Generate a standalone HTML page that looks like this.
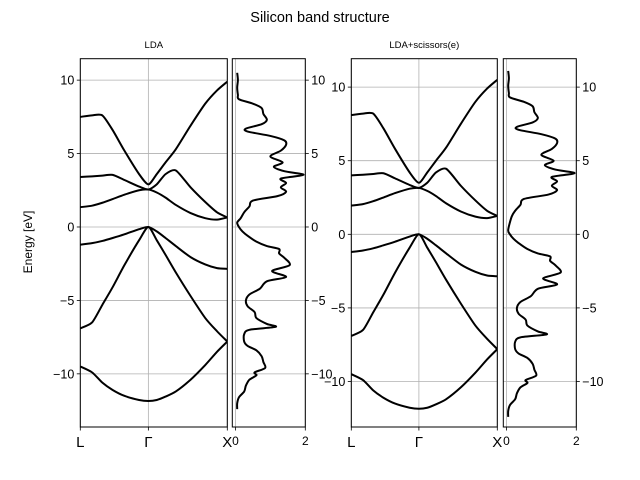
<!DOCTYPE html>
<html><head><meta charset="utf-8"><style>
html,body{margin:0;padding:0;background:#fff}
svg{display:block;font-family:"Liberation Sans","DejaVu Sans",sans-serif}
</style></head><body>
<svg id="fig" width="640" height="480" viewBox="0 0 640 480">
<text x="320" y="22" text-anchor="middle" font-size="14.5">Silicon band structure</text>
<text transform="translate(32,242) rotate(-90)" text-anchor="middle" font-size="12">Energy [eV]</text>
</svg>
<script>
// band data: k along L-Γ-X (0..1), energies in eV
const kPoints = [0, 0.08, 0.15, 0.22, 0.3, 0.4, 0.463, 0.52, 0.58, 0.65, 0.75, 0.85, 0.93, 1];
const band1 = [-9.5, -9.9, -10.6, -11.1, -11.5, -11.78, -11.85, -11.78, -11.55, -11.2, -10.4, -9.4, -8.5, -7.8];
const band2 = [-6.9, -6.5, -5.3, -4.1, -2.6, -0.9, 0, -0.9, -1.9, -3.1, -4.7, -6.2, -7.1, -7.8];
const band3 = [-1.2, -1.1, -0.95, -0.75, -0.5, -0.15, 0, -0.3, -0.75, -1.3, -2.05, -2.55, -2.8, -2.85];
const band5 = [1.35, 1.45, 1.65, 1.9, 2.2, 2.5, 2.55, 2.35, 2.0, 1.5, 0.95, 0.6, 0.5, 0.65];
const band6 = [3.4, 3.45, 3.5, 3.55, 3.2, 2.75, 2.55, 2.9, 3.6, 3.85, 2.7, 1.7, 1.0, 0.65];
const band7 = [7.5, 7.6, 7.6, 6.6, 5.2, 3.6, 2.9, 3.6, 4.4, 5.3, 6.9, 8.4, 9.3, 9.9];
const scissorShift = 0.6;
// DOS data
const dosEnergy = [10.5,10,9.5,9,8.7,8.4,8.1,7.7,7.3,7,6.7,6.5,6.2,5.9,5.6,5.2,4.8,4.4,4.1,3.8,3.55,3.3,3,2.7,2.4,2.1,1.8,1.4,1,0.6,0.3,0,-0.3,-0.6,-1,-1.3,-1.5,-1.8,-2.1,-2.6,-3,-3.4,-3.7,-4.2,-4.6,-5,-5.4,-5.8,-6.2,-6.6,-6.8,-7,-7.3,-7.8,-8.1,-8.4,-8.8,-9.2,-9.6,-9.9,-10.1,-10.4,-10.8,-11.2,-11.6,-12,-12.4];
const dosValue = [0.05,0.07,0.05,0.07,0.1,0.5,0.75,0.8,0.9,0.75,0.3,0.35,1.0,1.4,1.45,1.3,1.0,1.35,1.1,1.4,1.95,1.3,1.45,1.3,1.45,1.2,0.5,0.4,0.25,0.15,0.05,0.1,0.2,0.35,0.6,0.9,1.25,1.25,1.4,1.55,1.05,1.45,0.9,0.7,0.4,0.3,0.35,0.55,0.6,0.9,1.15,0.4,0.25,0.25,0.35,0.6,0.75,0.8,0.85,0.55,0.6,0.4,0.3,0.25,0.1,0.05,0.05];
const yTicks = [10, 5, 0, -5, -10];
const kTickPos = [0, 0.463, 1];
const kTickLabels = ["L", "Γ", "X"];
const dosTicks = [0, 2];

const NS = "http://www.w3.org/2000/svg";
const svg = document.getElementById("fig");
function mk(tag, attrs, parent) {
  const e = document.createElementNS(NS, tag);
  for (const k in attrs) e.setAttribute(k, attrs[k]);
  (parent || svg).appendChild(e);
  return e;
}
// smooth path (Catmull-Rom to cubic Bezier)
function smooth(pts, tension) {
  let d = "M" + pts[0][0].toFixed(2) + " " + pts[0][1].toFixed(2);
  for (let i = 0; i < pts.length - 1; i++) {
    const p0 = pts[i - 1] || pts[i], p1 = pts[i], p2 = pts[i + 1], p3 = pts[i + 2] || p2;
    const c1x = p1[0] + (p2[0] - p0[0]) * tension, c1y = p1[1] + (p2[1] - p0[1]) * tension;
    const c2x = p2[0] - (p3[0] - p1[0]) * tension, c2y = p2[1] - (p3[1] - p1[1]) * tension;
    d += " C" + c1x.toFixed(2) + " " + c1y.toFixed(2) + " " + c2x.toFixed(2) + " " + c2y.toFixed(2) + " " + p2[0].toFixed(2) + " " + p2[1].toFixed(2);
  }
  return d;
}
const panels = [
  {name: "lda", title: "LDA", bx0: 80.3, bx1: 227.3, dx0: 232.3, dx1: 305.3, ymin: -13.62, ymax: 11.46, shift: 0},
  {name: "scissors", title: "LDA+scissors(e)", bx0: 351.3, bx1: 497.3, dx0: 503.3, dx1: 576.3, ymin: -13.09, ymax: 11.93, shift: scissorShift}
];
const plotTop = 58.7, plotBot = 427;
panels.forEach(p => {
  const Y = e => plotBot - (e - p.ymin) / (p.ymax - p.ymin) * (plotBot - plotTop);
  const K = k => p.bx0 + k * (p.bx1 - p.bx0);
  const D = d => p.dx0 + (d + 0.09) / 2.09 * (p.dx1 - p.dx0);
  const g = mk("g", {});
  
  
  yTicks.forEach(t => {
    const l1 = mk("line", {x1: p.bx0, x2: p.bx1, y1: Y(t), y2: Y(t), stroke: "#b0b0b0", "stroke-width": 0.8}, g);
    
    
    const l2 = mk("line", {x1: p.dx0, x2: p.dx1, y1: Y(t), y2: Y(t), stroke: "#b0b0b0", "stroke-width": 0.8}, g);
    
    
  });
  kTickPos.forEach(k => {
    const l = mk("line", {x1: K(k), x2: K(k), y1: plotTop, y2: plotBot, stroke: "#b0b0b0", "stroke-width": 0.8}, g);
    
    
  });
  dosTicks.forEach(d => {
    const l = mk("line", {x1: D(d), x2: D(d), y1: plotTop, y2: plotBot, stroke: "#b0b0b0", "stroke-width": 0.8}, g);
    
    
  });
  const cp = mk("clipPath", {id: "clip-" + p.name}, g);
  mk("rect", {x: p.bx0, y: plotTop, width: p.bx1 - p.bx0, height: plotBot - plotTop}, cp);
  const bands = [band1, band2, band3, band5, band6, band7];
  bands.forEach((b, i) => {
    const sh = i >= 3 ? p.shift : 0;
    const pts = b.map((e, j) => [K(kPoints[j]), Y(e + sh)]);
    const path = mk("path", {d: smooth(pts, 0.12), fill: "none", stroke: "#000", "stroke-width": 2, "stroke-linejoin": "round", "clip-path": "url(#clip-" + p.name + ")"}, g);
    
    
  });
  const dpts = dosEnergy.map((e, j) => [D(dosValue[j]), Y(e > 0.3 ? e + p.shift : e)]);
  const dp = mk("path", {d: smooth(dpts, 0.15), fill: "none", stroke: "#000", "stroke-width": 2, "stroke-linejoin": "round"}, g);
  
  
  const f1 = mk("rect", {x: p.bx0, y: plotTop, width: p.bx1 - p.bx0, height: plotBot - plotTop, fill: "none", stroke: "#000", "stroke-width": 1}, g);
  
  
  const f2 = mk("rect", {x: p.dx0, y: plotTop, width: p.dx1 - p.dx0, height: plotBot - plotTop, fill: "none", stroke: "#000", "stroke-width": 1}, g);
  
  
  const t = mk("text", {x: (p.bx0 + p.bx1) / 2, y: 48, "text-anchor": "middle", "font-size": 9.5}, g);
  t.textContent = p.title;
  
  
  yTicks.forEach(v => {
    mk("line", {x1: p.bx0 - 3.5, x2: p.bx0, y1: Y(v), y2: Y(v), stroke: "#000", "stroke-width": 0.8}, g);
    const lt = mk("text", {x: p.bx0 - 6, y: Y(v) + 4.5, "text-anchor": "end", "font-size": 12.5}, g);
    lt.textContent = v < 0 ? "\u2212" + (-v) : "" + v;
    
    
    mk("line", {x1: p.dx1, x2: p.dx1 + 3.5, y1: Y(v), y2: Y(v), stroke: "#000", "stroke-width": 0.8}, g);
    const rt = mk("text", {x: p.dx1 + 6, y: Y(v) + 4.5, "text-anchor": "start", "font-size": 12.5}, g);
    rt.textContent = v < 0 ? "\u2212" + (-v) : "" + v;
    
    
  });
  kTickPos.forEach((k, i) => {
    mk("line", {x1: K(k), x2: K(k), y1: plotBot, y2: plotBot + 3.5, stroke: "#000", "stroke-width": 0.8}, g);
    const kt = mk("text", {x: K(k), y: plotBot + 20, "text-anchor": "middle", "font-size": 15}, g);
    kt.textContent = kTickLabels[i];
    
    
  });
  dosTicks.forEach(d => {
    mk("line", {x1: D(d), x2: D(d), y1: plotBot, y2: plotBot + 3.5, stroke: "#000", "stroke-width": 0.8}, g);
    const xt = mk("text", {x: D(d), y: plotBot + 18, "text-anchor": "middle", "font-size": 12}, g);
    xt.textContent = "" + d;
    
    
  });
});
</script>
</body></html>
